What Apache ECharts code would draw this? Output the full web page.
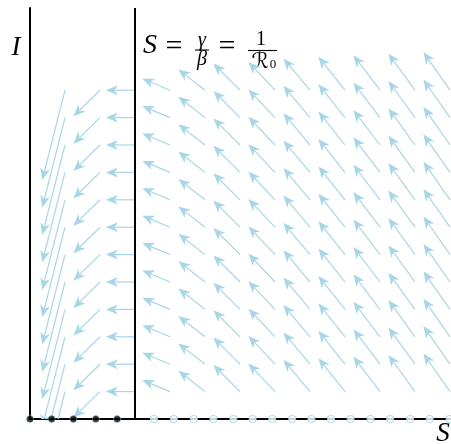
<!DOCTYPE html>
<html><head><meta charset="utf-8">
<script src="https://cdn.jsdelivr.net/npm/echarts@6/dist/echarts.min.js"></script>
<style>html,body{margin:0;padding:0;background:#fff}#c{width:451px;height:444px}</style>
</head><body><div id="c"></div>
<script>
// Grid of arrow tails (S, I) and the arrow components per S column
const sColumns = [1, 2, 3, 4, 5, 6, 7, 8, 9, 10, 11, 12];
const iRows = [1, 2, 3, 4, 5, 6, 7, 8, 9, 10, 11, 12];
const dSbyColumn = [-0.65, -0.76, -0.83, -0.79, -0.76, -0.76, -0.76, -0.76, -0.76, -0.76, -0.76, -0.76];
const dIbyColumn = [-3.28, -0.95, 0, 0.42, 0.76, 0.97, 1.03, 1.16, 1.22, 1.28, 1.34, 1.39];
// equilibria on the S axis (I = 0)
const stableS = [0, 0.62, 1.24, 1.88, 2.49];
const unstableS = [3.54, 4.11, 4.68, 5.24, 5.81, 6.36, 6.92, 7.49, 8.04, 8.6, 9.16, 9.73, 10.29, 10.86, 11.42, 11.99];
const thresholdS = 3;

const ARROW = '#a8d6e6';
const SERIF = "'Liberation Serif','DejaVu Serif',serif";

const arrowData = [];
sColumns.forEach((s, ci) => {
  iRows.forEach(i => arrowData.push([s, i, dSbyColumn[ci], dIbyColumn[ci]]));
});

function renderArrow(params, api) {
  const s = api.value(0), i = api.value(1), ds = api.value(2), di = api.value(3);
  const a = api.coord([s, i]), b = api.coord([s + ds, i + di]);
  const dx = b[0] - a[0], dy = b[1] - a[1], L = Math.hypot(dx, dy);
  const ux = dx / L, uy = dy / L, nx = -uy, ny = ux;
  const hl = 12, hw = 5, notch = 8.5;
  const base = [b[0] - ux * hl, b[1] - uy * hl];
  const nb = [b[0] - ux * notch, b[1] - uy * notch];
  return {
    type: 'group',
    children: [
      { type: 'line', shape: { x1: a[0], y1: a[1], x2: nb[0], y2: nb[1] },
        style: { stroke: ARROW, lineWidth: 1.2 } },
      { type: 'polygon', shape: { points: [b, [base[0] + nx * hw, base[1] + ny * hw], nb, [base[0] - nx * hw, base[1] - ny * hw]] },
        style: { fill: ARROW } }
    ]
  };
}

const chart = echarts.init(document.getElementById('c'), null, { renderer: 'canvas' });
chart.setOption({
  animation: false,
  backgroundColor: '#fff',
  grid: { left: 30, top: 8, width: 421, height: 411 },
  xAxis: {
    type: 'value', min: 0, max: 421 / 35,
    axisLine: { show: true, lineStyle: { color: '#000', width: 2 } },
    axisTick: { show: false }, axisLabel: { show: false }, splitLine: { show: false }
  },
  yAxis: {
    type: 'value', min: 0, max: 15,
    axisLine: { show: true, lineStyle: { color: '#000', width: 2 } },
    axisTick: { show: false }, axisLabel: { show: false }, splitLine: { show: false }
  },
  series: [
    {
      type: 'custom', clip: true, renderItem: renderArrow, data: arrowData, z: 2,
      markLine: {
        silent: true, symbol: ['none', 'none'], label: { show: false },
        lineStyle: { color: '#000', width: 2, type: 'solid' },
        data: [{ xAxis: thresholdS }]
      }
    },
    {
      type: 'scatter', data: stableS.map(s => [s, 0]), symbolSize: 7, clip: false, z: 5,
      itemStyle: { color: '#000', borderColor: ARROW, borderWidth: 0.6 }
    },
    {
      type: 'scatter', data: unstableS.map(s => [s, 0]), symbolSize: 7, clip: false, z: 5,
      itemStyle: { color: '#fff', borderColor: ARROW, borderWidth: 1.2 }
    }
  ],
  graphic: [
    { type: 'text', x: 16, y: 48, style: { text: 'I', font: `italic 27px ${SERIF}`, fill: '#000', textAlign: 'center', textVerticalAlign: 'middle' } },
    { type: 'text', x: 443, y: 434, style: { text: 'S', font: `italic 27px ${SERIF}`, fill: '#000', textAlign: 'center', textVerticalAlign: 'middle' } },
    { type: 'text', x: 150, y: 46, style: { text: 'S', font: `italic 28px ${SERIF}`, fill: '#000', textAlign: 'center', textVerticalAlign: 'middle' } },
    { type: 'text', x: 174, y: 47, style: { text: '=', font: `30px ${SERIF}`, fill: '#000', textAlign: 'center', textVerticalAlign: 'middle' } },
    { type: 'text', x: 202, y: 41, style: { text: 'γ', font: `italic 20px ${SERIF}`, fill: '#000', textAlign: 'center', textVerticalAlign: 'middle' } },
    { type: 'line', shape: { x1: 195, y1: 50, x2: 209, y2: 50 }, style: { stroke: '#000', lineWidth: 1.1 } },
    { type: 'text', x: 202, y: 60, style: { text: 'β', font: `italic 20px ${SERIF}`, fill: '#000', textAlign: 'center', textVerticalAlign: 'middle' } },
    { type: 'text', x: 227, y: 47, style: { text: '=', font: `30px ${SERIF}`, fill: '#000', textAlign: 'center', textVerticalAlign: 'middle' } },
    { type: 'text', x: 261, y: 40, style: { text: '1', font: `20px ${SERIF}`, fill: '#000', textAlign: 'center', textVerticalAlign: 'middle' } },
    { type: 'line', shape: { x1: 248, y1: 50.5, x2: 277, y2: 50.5 }, style: { stroke: '#000', lineWidth: 1.1 } },
    { type: 'text', x: 260, y: 62, style: { text: 'ℛ', font: `22px 'DejaVu Sans','DejaVu Serif',serif`, fill: '#000', textAlign: 'center', textVerticalAlign: 'middle' } },
    { type: 'text', x: 273, y: 65, style: { text: '0', font: `13px ${SERIF}`, fill: '#000', textAlign: 'center', textVerticalAlign: 'middle' } }
  ]
});
</script></body></html>
